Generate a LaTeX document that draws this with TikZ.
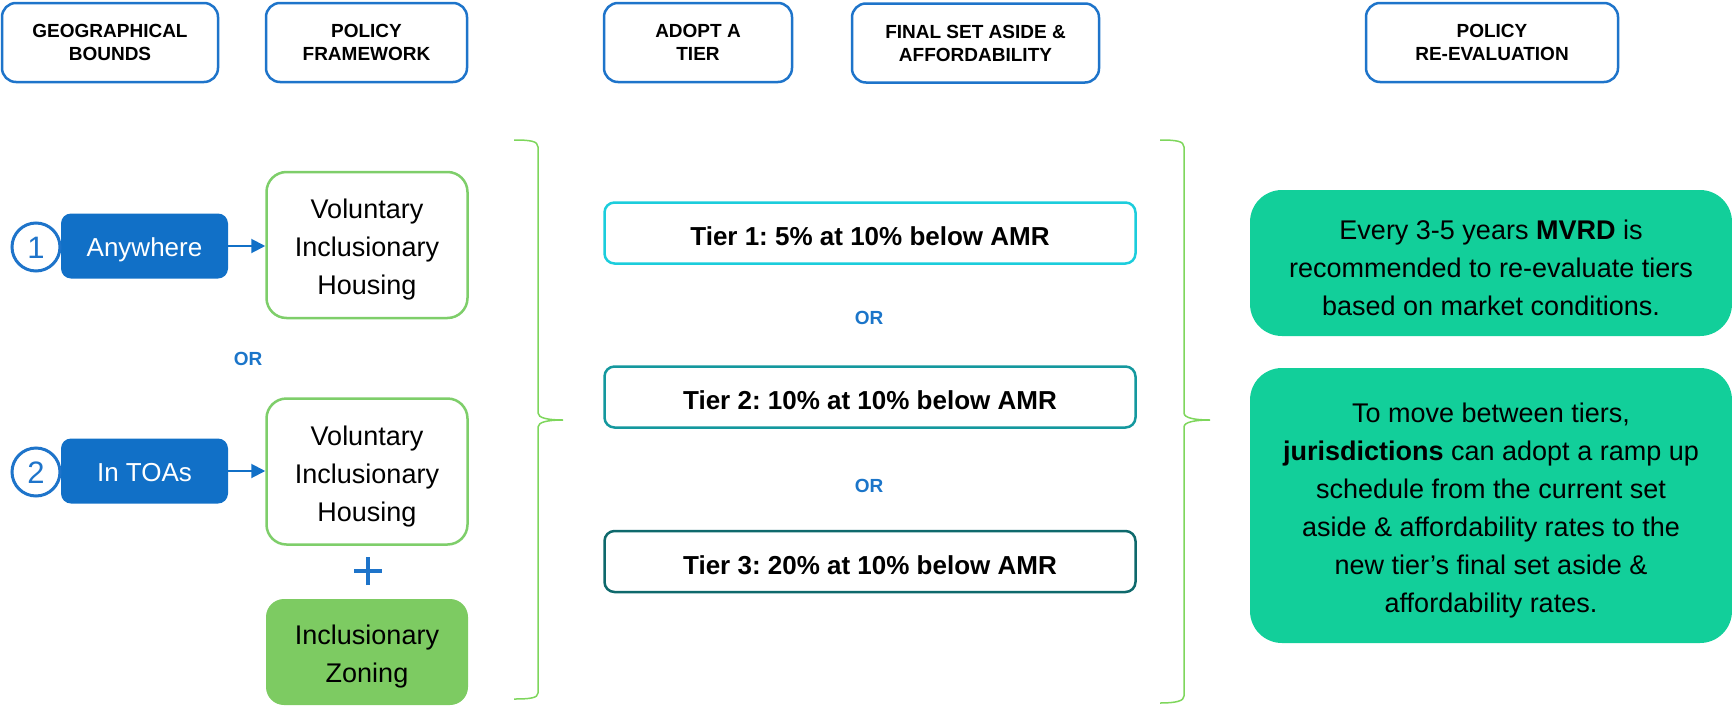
\documentclass[tikz,border=0pt]{standalone}
\usepackage{fontspec}
\setmainfont{Liberation Sans}
\usetikzlibrary{arrows.meta}
\frenchspacing
\definecolor{headblue}{RGB}{30,116,202}
\definecolor{fillblue}{RGB}{17,112,199}
\definecolor{orblue}{RGB}{27,117,201}
\definecolor{vgreen}{RGB}{126,206,106}
\definecolor{izgreen}{RGB}{125,203,98}
\definecolor{tieronec}{RGB}{28,205,220}
\definecolor{tiertwoc}{RGB}{20,152,158}
\definecolor{tierthreec}{RGB}{14,105,108}
\definecolor{mint}{RGB}{18,207,154}
\definecolor{bracegreen}{RGB}{126,214,92}
\tikzset{
  head/.style={draw=headblue, line width=2.5pt, rounded corners=14pt, fill=white,
    align=center, inner sep=0pt, font=\fontsize{19}{23}\selectfont\bfseries},
  geo/.style={fill=fillblue, rounded corners=10pt, inner sep=0pt,
    minimum width=167pt, minimum height=65pt},
  geotext/.style={text=white, inner sep=0pt, font=\fontsize{26}{30}\selectfont},
  numring/.style={circle, draw=headblue, line width=3pt, fill=white, inner sep=0pt,
    minimum size=48pt},
  numtext/.style={text=headblue, inner sep=0pt, font=\fontsize{31}{34}\selectfont},
  vol/.style={draw=vgreen, line width=2.5pt, rounded corners=20pt, fill=white,
    inner sep=0pt, minimum width=201pt, minimum height=146pt},
  izbox/.style={fill=izgreen, rounded corners=18pt, inner sep=0pt,
    minimum width=202pt, minimum height=106pt},
  bodytext/.style={align=center, inner sep=0pt, font=\fontsize{27}{38}\selectfont},
  tierbox/.style={line width=2.5pt, rounded corners=10pt, fill=white, inner sep=0pt,
    minimum width=531pt, minimum height=61pt},
  tiertext/.style={inner sep=0pt, font=\fontsize{26}{31}\selectfont\bfseries},
  orlabel/.style={text=orblue, font=\fontsize{19}{21}\selectfont\bfseries, inner sep=0pt},
  mintbox/.style={fill=mint, rounded corners=32pt, inner sep=0pt, minimum width=482pt},
  link/.style={draw=fillblue, line width=2pt, -{Triangle[length=14pt,width=14pt]}},
  bracepath/.style={draw=bracegreen, line width=1.5pt},
  plusline/.style={draw=headblue, line width=4.5pt}
}
\begin{document}
\begin{tikzpicture}[x=1pt,y=-1pt]
\useasboundingbox (0,0) rectangle (1732,707);
% headers
\node[head, minimum width=216pt, minimum height=79pt] (h1) at (110,42.5) {GEOGRAPHICAL\\BOUNDS};
\node[head, minimum width=201pt, minimum height=79pt] (h2) at (366.5,42.5) {POLICY\\FRAMEWORK};
\node[head, minimum width=188pt, minimum height=79pt] (h3) at (698,42.5) {ADOPT A\\TIER};
\node[head, minimum width=247pt, minimum height=79pt] (h4) at (975.5,43) {FINAL SET ASIDE \&\\AFFORDABILITY};
\node[head, minimum width=252pt, minimum height=79pt] (h5) at (1492,42.5) {POLICY\\RE-EVALUATION};
% geographical bounds
\node[geo] (any) at (144.5,246) {};
\node[geotext] (anyt) at ([yshift=-4pt]any.center) {Anywhere};
\node[numring] (n1) at (36,247) {};
\node[numtext] (n1t) at ([yshift=-1pt]n1.center) {1};
\node[geo] (toa) at (144.5,471) {};
\node[geotext] (toat) at ([yshift=-2pt]toa.center) {In TOAs};
\node[numring] (n2) at (36,472) {};
\node[numtext] (n2t) at ([yshift=-1pt]n2.center) {2};
\node[orlabel] (or0) at (248,359) {OR};
% policy framework
\node[vol] (v1) at (367,245) {};
\node[bodytext] (v1t) at ([yshift=-5pt]v1.center) {Voluntary\\Inclusionary\\Housing};
\node[vol] (v2) at (367,471.5) {};
\node[bodytext] (v2t) at ([yshift=-5pt]v2.center) {Voluntary\\Inclusionary\\Housing};
\node[izbox] (iz) at (367,652) {};
\node[bodytext] (izt) at ([yshift=-5pt]iz.center) {Inclusionary\\Zoning};
\coordinate (pc) at (368,571);
\draw[plusline] ([xshift=-14pt]pc) -- ([xshift=14pt]pc);
\draw[plusline] ([yshift=-14pt]pc) -- ([yshift=14pt]pc);
\draw[link] (any.east) -- (any.east -| v1.west);
\draw[link] (toa.east) -- (toa.east -| v2.west);
% brace 1
\draw[bracepath] (514,140) .. controls (530,140) and (538,141) .. (538,147) -- (538,413)
  .. controls (538,418) and (548,420) .. (563,420)
  .. controls (548,420) and (538,422) .. (538,427) -- (538,693)
  .. controls (538,698) and (530,699) .. (514,699);
% tiers
\node[tierbox, draw=tieronec] (t1) at (870,233) {};
\node[tiertext] (t1t) at ([yshift=-3.3pt]t1.center) {Tier 1: 5\% at 10\% below AMR};
\node[orlabel] (or1) at (869,318) {OR};
\node[tierbox, draw=tiertwoc] (t2) at (870,397) {};
\node[tiertext] (t2t) at ([yshift=-3.3pt]t2.center) {Tier 2: 10\% at 10\% below AMR};
\node[orlabel] (or2) at (869,486) {OR};
\node[tierbox, draw=tierthreec] (t3) at (870,561.5) {};
\node[tiertext] (t3t) at ([yshift=-3.3pt]t3.center) {Tier 3: 20\% at 10\% below AMR};
% brace 2
\draw[bracepath] (1160,140) .. controls (1176,140) and (1184,141) .. (1184,147) -- (1184,413)
  .. controls (1184,418) and (1195,420) .. (1210,420)
  .. controls (1195,420) and (1184,422) .. (1184,427) -- (1184,696)
  .. controls (1184,701) and (1176,703) .. (1160,703);
% re-evaluation
\node[mintbox, minimum height=146pt] (m1) at (1491,263) {};
\node[bodytext] (m1t) at ([yshift=-5pt]m1.center) {Every 3-5 years \textbf{MVRD} is\\recommended to re-evaluate tiers\\based on market conditions.};
\node[mintbox, minimum height=275pt] (m2) at (1491,505.5) {};
\node[bodytext] (m2t) at ([yshift=-5pt]m2.center) {To move between tiers,\\\textbf{jurisdictions} can adopt a ramp up\\schedule from the current set\\aside \& affordability rates to the\\new tier’s final set aside \&\\affordability rates.};
\end{tikzpicture}
\end{document}
